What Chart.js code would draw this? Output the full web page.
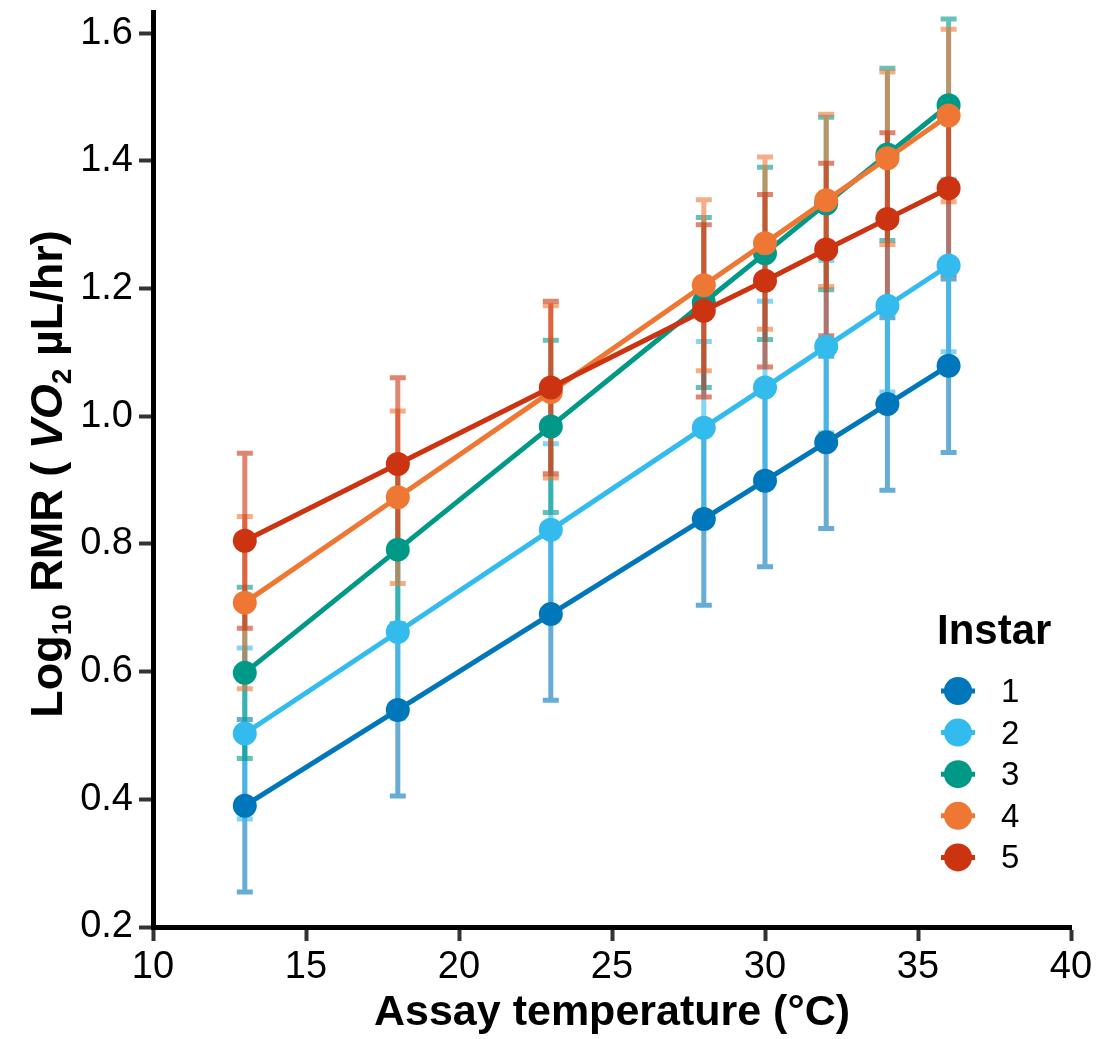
<!DOCTYPE html>
<html>
<head>
<meta charset="utf-8">
<script src="https://cdn.jsdelivr.net/npm/chart.js@4"></script>
<style>
  body { margin: 0; background: #fff; }
  #wrap { width: 1100px; height: 1039px; }
</style>
</head>
<body>
<div id="wrap"><canvas id="myChart" width="1100" height="1039"></canvas></div>
<script>
// assay temperatures (°C)
const temps = [13, 18, 23, 28, 30, 32, 34, 36];

// log10 RMR means per instar
const instar1 = [0.390, 0.540, 0.690, 0.839, 0.899, 0.959, 1.019, 1.079];
const instar2 = [0.503, 0.662, 0.822, 0.982, 1.045, 1.109, 1.173, 1.236];
const instar3 = [0.598, 0.791, 0.984, 1.178, 1.255, 1.333, 1.410, 1.487];
const instar4 = [0.708, 0.873, 1.038, 1.205, 1.271, 1.338, 1.404, 1.471];
const instar5 = [0.805, 0.925, 1.045, 1.165, 1.212, 1.261, 1.309, 1.357];

// error bar half widths
const err1 = [0.135, 0.135, 0.135, 0.135, 0.135, 0.135, 0.135, 0.136];
const err2 = [0.134, 0.135, 0.135, 0.135, 0.135, 0.135, 0.135, 0.135];
const err3 = [0.134, 0.135, 0.135, 0.133, 0.135, 0.135, 0.135, 0.135];
const err4 = [0.135, 0.135, 0.135, 0.134, 0.135, 0.135, 0.135, 0.135];
const err5 = [0.137, 0.135, 0.135, 0.135, 0.135, 0.135, 0.135, 0.135];

const labels = ["1", "2", "3", "4", "5"];
const xTicks = [10, 15, 20, 25, 30, 35, 40];
const yTicks = [0.2, 0.4, 0.6, 0.8, 1.0, 1.2, 1.4, 1.6];

const means = [instar1, instar2, instar3, instar4, instar5];
const errors = [err1, err2, err3, err4, err5];
const colors = ["#0077BB", "#33BBEE", "#009988", "#EE7733", "#CC3311"];
const FONT = "'Liberation Sans', Arial, Helvetica, sans-serif";

function fade(hex, a) {
    const n = parseInt(hex.slice(1), 16);
    return `rgba(${n >> 16}, ${(n >> 8) & 255}, ${n & 255}, ${a})`;
}

const errorBars = {
    id: 'errorBars',
    beforeDatasetsDraw(chart) {
        const { ctx, scales: { x, y } } = chart;
        means.forEach((m, i) => {
            ctx.save();
            ctx.strokeStyle = fade(colors[i], 0.6);
            ctx.lineWidth = 5;
            m.forEach((v, j) => {
                const px = x.getPixelForValue(temps[j]);
                const lo = y.getPixelForValue(v - errors[i][j]);
                const hi = y.getPixelForValue(v + errors[i][j]);
                ctx.beginPath();
                ctx.moveTo(px, lo); ctx.lineTo(px, hi);
                ctx.moveTo(px - 8, lo); ctx.lineTo(px + 8, lo);
                ctx.moveTo(px - 8, hi); ctx.lineTo(px + 8, hi);
                ctx.stroke();
            });
            ctx.restore();
        });
    }
};

const titlesAndLegend = {
    id: 'titlesAndLegend',
    afterDraw(chart) {
        const ctx = chart.ctx;
        ctx.save();
        ctx.fillStyle = '#000';

        // x title
        ctx.font = `bold 43px ${FONT}`;
        ctx.textAlign = 'center';
        ctx.textBaseline = 'alphabetic';
        ctx.fillText('Assay temperature (°C)', 612, 1025);

        // y title with subscripts
        const parts = [
            ['Log', `bold 45px ${FONT}`, 0],
            ['10', `bold 28px ${FONT}`, 9],
            [' RMR ( ', `bold 45px ${FONT}`, 0],
            ['VO', `italic bold 45px ${FONT}`, 0],
            ['2', `bold 28px ${FONT}`, 9],
            [' µL/hr)', `bold 45px ${FONT}`, 0]
        ];
        let total = 0;
        parts.forEach(p => { ctx.font = p[1]; total += ctx.measureText(p[0]).width; });
        ctx.translate(62, 474);
        ctx.rotate(-Math.PI / 2);
        ctx.textAlign = 'left';
        let cx = -total / 2;
        parts.forEach(p => {
            ctx.font = p[1];
            ctx.fillText(p[0], cx, p[2]);
            cx += ctx.measureText(p[0]).width;
        });
        ctx.setTransform(1, 0, 0, 1, 0, 0);

        // legend
        ctx.font = `bold 42px ${FONT}`;
        ctx.textAlign = 'left';
        ctx.textBaseline = 'middle';
        ctx.fillText('Instar', 937, 632);
        ctx.font = `33px ${FONT}`;
        labels.forEach((lab, i) => {
            const ly = 691 + i * 41.6;
            ctx.strokeStyle = colors[i];
            ctx.lineWidth = 5;
            ctx.beginPath();
            ctx.moveTo(941, ly); ctx.lineTo(975, ly);
            ctx.stroke();
            ctx.fillStyle = colors[i];
            ctx.beginPath();
            ctx.arc(958, ly, 14, 0, Math.PI * 2);
            ctx.fill();
            ctx.fillStyle = '#000';
            ctx.fillText(lab, 1001, ly + 2);
        });
        ctx.restore();
    }
};

const ctx = document.getElementById('myChart').getContext('2d');
const myChart = new Chart(ctx, {
    type: 'line',
    data: {
        datasets: means.map((m, i) => ({
            label: labels[i],
            data: m.map((v, j) => ({ x: temps[j], y: v })),
            borderColor: colors[i],
            backgroundColor: colors[i],
            pointBackgroundColor: colors[i],
            pointBorderWidth: 0,
            pointRadius: 12,
            borderWidth: 5,
            fill: false,
            tension: 0,
            order: 4 - i
        }))
    },
    options: {
        responsive: false,
        animation: false,
        devicePixelRatio: 1,
        layout: { padding: { top: 9, right: 29, left: 0, bottom: 0 } },
        plugins: {
            legend: { display: false },
            tooltip: { enabled: false }
        },
        scales: {
            x: {
                type: 'linear',
                min: 10,
                max: 40,
                afterFit(scale) { scale.height = 112; scale.paddingLeft = 0; scale.paddingRight = 0; },
                afterBuildTicks(scale) { scale.ticks = xTicks.map(v => ({ value: v })); },
                border: { color: '#000', width: 5 },
                grid: { drawOnChartArea: false, tickLength: 14, tickWidth: 4, tickColor: '#333' },
                ticks: { color: '#000', padding: 4, font: { family: FONT, size: 38 } }
            },
            y: {
                type: 'linear',
                min: 0.2,
                max: 1.633,
                afterFit(scale) { scale.width = 153; scale.paddingTop = 0; scale.paddingBottom = 0; },
                afterBuildTicks(scale) { scale.ticks = yTicks.map(v => ({ value: v })); },
                border: { color: '#000', width: 5 },
                grid: { drawOnChartArea: false, tickLength: 14, tickWidth: 4, tickColor: '#333' },
                ticks: {
                    color: '#000', padding: 6, font: { family: FONT, size: 38 },
                    callback: v => v.toFixed(1)
                }
            }
        }
    },
    plugins: [errorBars, titlesAndLegend]
});
</script>
</body>
</html>
